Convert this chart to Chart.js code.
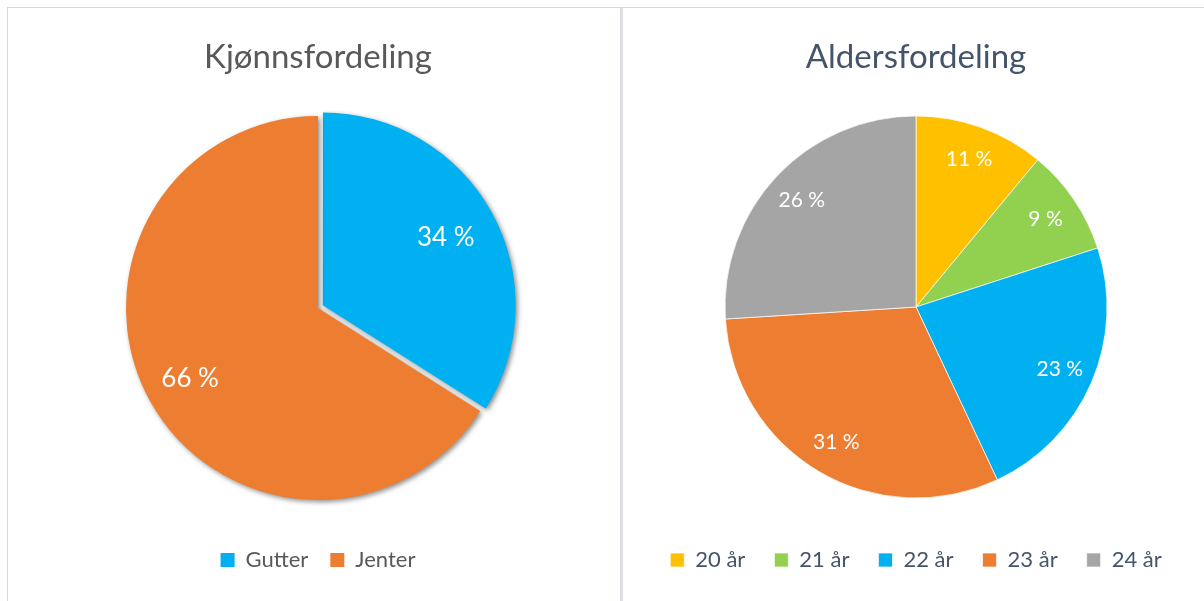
<!DOCTYPE html>
<html>
<head>
<meta charset="utf-8">
<script src="https://cdn.jsdelivr.net/npm/chart.js@4"></script>
<style>
  body { margin: 0; background: #fff; width: 1204px; height: 601px; overflow: hidden; position: relative; }
  .panel { position: absolute; border: 1px solid #d9d9d9; box-sizing: border-box; }
  canvas { position: absolute; }
</style>
</head>
<body>
<div class="panel" style="left:7px; top:7px; width:614px; height:620px;"></div>
<div class="panel" style="left:621px; top:7px; width:600px; height:620px; border-left:2px solid #dde1e8;"></div>
<canvas id="kjonn" width="612" height="593" style="left:8px; top:8px;"></canvas>
<canvas id="alder" width="582" height="593" style="left:622px; top:8px;"></canvas>
<script>
// Kjønnsfordeling
const kjonnLabels = ['Gutter', 'Jenter'];
const kjonnValues = [34, 66];
const kjonnColors = ['#00B0F0', '#ED7D31'];

// Aldersfordeling
const alderLabels = ['20 år', '21 år', '22 år', '23 år', '24 år'];
const alderValues = [11, 9, 23, 31, 26];
const alderColors = ['#FFC000', '#92D050', '#00B0F0', '#ED7D31', '#A5A5A5'];

const fontFamily = 'Lato, "Open Sans", sans-serif';

// skriver "34 %" osv. inne i sektorene
function pieLabels(fontSize, factor) {
    return {
        id: 'pieLabels',
        afterDatasetsDraw(chart) {
            const ctx = chart.ctx;
            const meta = chart.getDatasetMeta(0);
            const values = chart.data.datasets[0].data;
            ctx.save();
            ctx.fillStyle = '#ffffff';
            ctx.font = fontSize + 'px ' + fontFamily;
            ctx.textAlign = 'center';
            ctx.textBaseline = 'middle';
            meta.data.forEach((arc, i) => {
                const p = arc.getProps(['x', 'y', 'startAngle', 'endAngle', 'outerRadius']);
                const mid = (p.startAngle + p.endAngle) / 2;
                const r = p.outerRadius * factor;
                ctx.fillText(values[i] + ' %', p.x + Math.cos(mid) * r, p.y + Math.sin(mid) * r);
            });
            ctx.restore();
        }
    };
}

// skygge rundt kakestykkene
const shadowPlugin = {
    id: 'shadow',
    beforeDatasetDraw(chart) {
        const ctx = chart.ctx;
        ctx.save();
        ctx.shadowColor = 'rgba(0,0,0,0.45)';
        ctx.shadowBlur = 5;
        ctx.shadowOffsetX = 2;
        ctx.shadowOffsetY = 2;
    },
    afterDatasetDraw(chart) {
        chart.ctx.restore();
    }
};

function pieOptions(title, titleColor, legendSize, legendPad, padTitleBottom, padBottom, padLeft, radius) {
    return {
        responsive: false,
        animation: false,
        radius: radius,
        layout: { padding: { left: padLeft, bottom: padBottom } },
        plugins: {
            tooltip: { enabled: false },
            title: {
                display: true,
                text: title,
                color: titleColor,
                font: { family: fontFamily, size: 33, weight: 'normal', lineHeight: 1.2 },
                padding: { top: 29.5, bottom: padTitleBottom }
            },
            legend: {
                position: 'bottom',
                labels: {
                    color: titleColor,
                    boxWidth: 14,
                    boxHeight: 14,
                    padding: legendPad,
                    font: { family: fontFamily, size: legendSize }
                }
            }
        }
    };
}

new Chart(document.getElementById('kjonn').getContext('2d'), {
    type: 'pie',
    data: {
        labels: kjonnLabels,
        datasets: [{
            data: kjonnValues,
            backgroundColor: kjonnColors,
            borderWidth: 0,
            offset: [22, 0]
        }]
    },
    options: pieOptions('Kjønnsfordeling', '#595959', 22, 22, 11.9, 20, 8, 192),
    plugins: [shadowPlugin, pieLabels(26, 0.76)]
});

new Chart(document.getElementById('alder').getContext('2d'), {
    type: 'pie',
    data: {
        labels: alderLabels,
        datasets: [{
            data: alderValues,
            backgroundColor: alderColors,
            borderWidth: 1,
            borderColor: 'rgba(255,255,255,0.7)'
        }]
    },
    options: pieOptions('Aldersfordeling', '#44546A', 22, 29, 16.9, 20, 6, 191),
    plugins: [pieLabels(21, 0.82)]
});
</script>
</body>
</html>
